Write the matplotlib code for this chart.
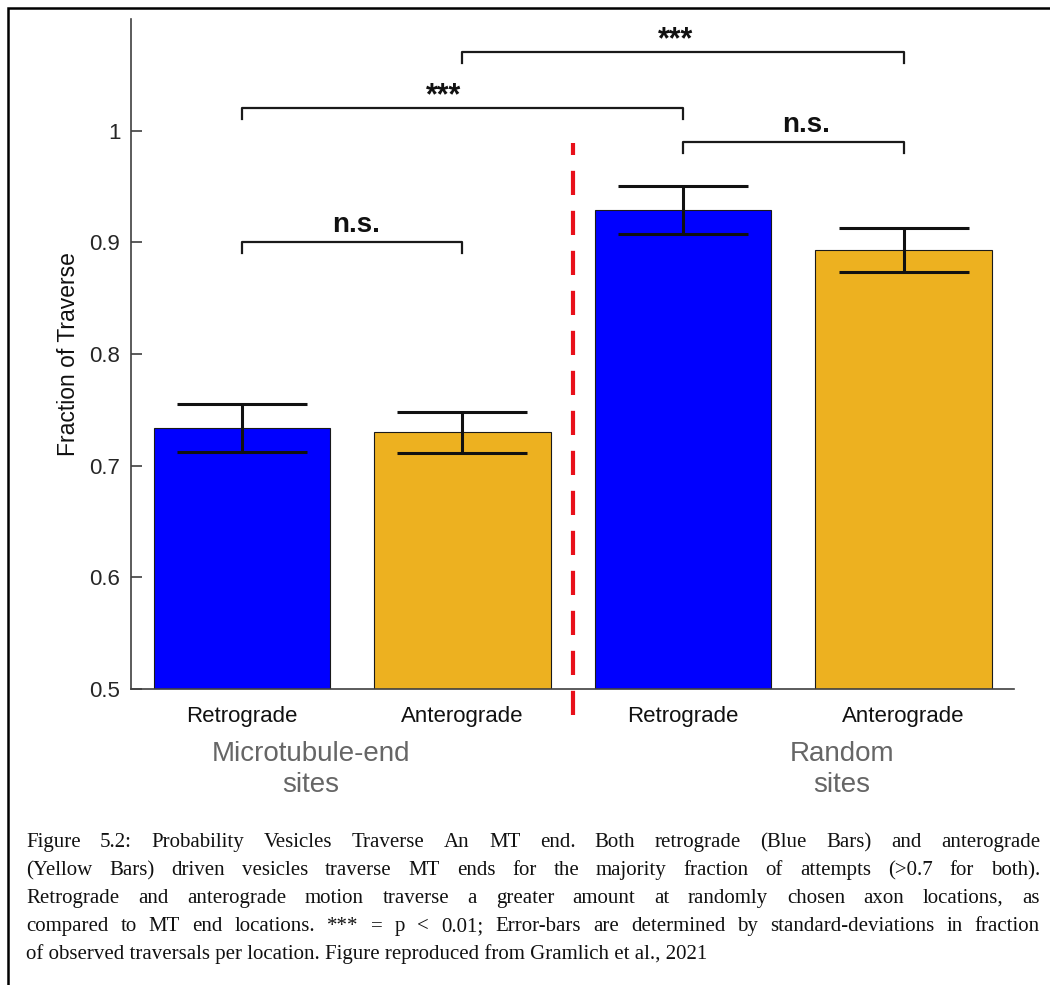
import numpy as np
import matplotlib
matplotlib.use('Agg')
import matplotlib.pyplot as plt
from matplotlib.patches import Rectangle

# data
categories = ['Retrograde', 'Anterograde', 'Retrograde', 'Anterograde']
fraction = [0.734, 0.730, 0.929, 0.893]
err = [0.0215, 0.0185, 0.0215, 0.020]
bar_colors = ['#0000FF', '#EDB120', '#0000FF', '#EDB120']
yticks = [0.5, 0.6, 0.7, 0.8, 0.9, 1.0]
ytick_labels = ['0.5', '0.6', '0.7', '0.8', '0.9', '1']
groups = ['Microtubule-end\nsites', 'Random\nsites']
group_x = [1.314, 3.719]

# significance brackets
br_left = [1, 1, 3, 2]
br_right = [2, 3, 4, 4]
br_y = [0.9005, 1.0204, 0.990, 1.0705]
br_label = ['n.s.', '***', 'n.s.', '***']
br_label_x = [1.52, 1.915, 3.557, 2.968]

caption_lines = [
    'Figure 5.2: Probability Vesicles Traverse An MT end. Both retrograde (Blue Bars) and anterograde',
    '(Yellow Bars) driven vesicles traverse MT ends for the majority fraction of attempts (>0.7 for both).',
    'Retrograde and anterograde motion traverse a greater amount at randomly chosen axon locations, as',
    'compared to MT end locations. *** = p < 0.01; Error-bars are determined by standard-deviations in fraction',
    'of observed traversals per location. Figure reproduced from Gramlich et al., 2021',
]

W, H = 1050, 985
plt.rcParams['font.family'] = ['Liberation Sans', 'DejaVu Sans']
fig = plt.figure(figsize=(W / 100, H / 100), dpi=100)
ax = fig.add_axes([0.1252, 0.3005, 0.8405, 0.6802])

x = np.arange(1, len(categories) + 1)
ax.bar(x, fraction, width=0.8, color=bar_colors, edgecolor='#1a1a1a', linewidth=0.8)
ax.errorbar(x, fraction, yerr=err, fmt='none', ecolor='#111111',
            elinewidth=2.2, capsize=47, capthick=2.2)

# dashed divider between the two site groups
xd = (x[1] + x[2]) / 2
ax.plot([xd, xd], [0.4767, 0.989], color='#E8101A', lw=3, linestyle='--',
        dashes=(5.8, 3.8), clip_on=False)

for x1, x2, y, lab, lx in zip(br_left, br_right, br_y, br_label, br_label_x):
    ax.plot([x1, x1, x2, x2], [y - 0.01, y, y, y - 0.01], color='#1a1a1a',
            lw=1.6, clip_on=False)
    if lab == 'n.s.':
        ax.text(lx, y + 0.009, lab, ha='center', va='baseline', fontsize=20,
                fontweight='bold', color='#111111')
    else:
        ax.text(lx, y + 0.003, lab, ha='center', va='baseline', fontsize=22,
                fontweight='bold', color='#111111')

for gx, g in zip(group_x, groups):
    ax.text(gx, 0.4275, g, ha='center', va='center', fontsize=20,
            color='#666666', linespacing=1.25)

ax.set_xlim(0.5, 4.5)
ax.set_ylim(0.5, 1.1)
ax.set_xticks(x)
ax.set_xticklabels(categories)
ax.set_yticks(yticks)
ax.set_yticklabels(ytick_labels)
for s in ['top', 'right']:
    ax.spines[s].set_visible(False)
for s in ['left', 'bottom']:
    ax.spines[s].set_color('#404040')
    ax.spines[s].set_linewidth(1.2)
ax.tick_params(axis='y', direction='in', length=8, width=1.2, color='#404040',
               labelsize=16, pad=8, labelcolor='#262626')
ax.tick_params(axis='x', length=0, pad=12, labelsize=16, labelcolor='#111111')
ax.set_ylabel('Fraction of Traverse', fontsize=16.5, color='#111111')
ax.yaxis.set_label_coords(-0.058, 0.5)

# outer frame (cropped on the right and bottom)
fig.add_artist(Rectangle((7.5 / W, -0.05), 1.2, (H - 7.5) / H + 0.05,
                         transform=fig.transFigure, fill=False, lw=1.8,
                         ec='black'))

# justified caption
fig.canvas.draw()
r = fig.canvas.get_renderer()
left, right = 26, 1040
cap_kw = dict(fontsize=15, family=['Liberation Serif', 'DejaVu Serif'],
              color='#111111', va='baseline', ha='left')
for i, line in enumerate(caption_lines):
    yb = 1 - (847 + 28 * i) / H
    if i == len(caption_lines) - 1:
        fig.text(left / W, yb, line, **cap_kw)
        continue
    words = line.split(' ')
    ts = [fig.text(0, yb, w, **cap_kw) for w in words]
    widths = [t.get_window_extent(r).width for t in ts]
    gap = (right - left - sum(widths)) / (len(words) - 1)
    xpos = left
    for t, w in zip(ts, widths):
        t.set_x(xpos / W)
        xpos += w + gap

fig.savefig('out.png', dpi=100)
